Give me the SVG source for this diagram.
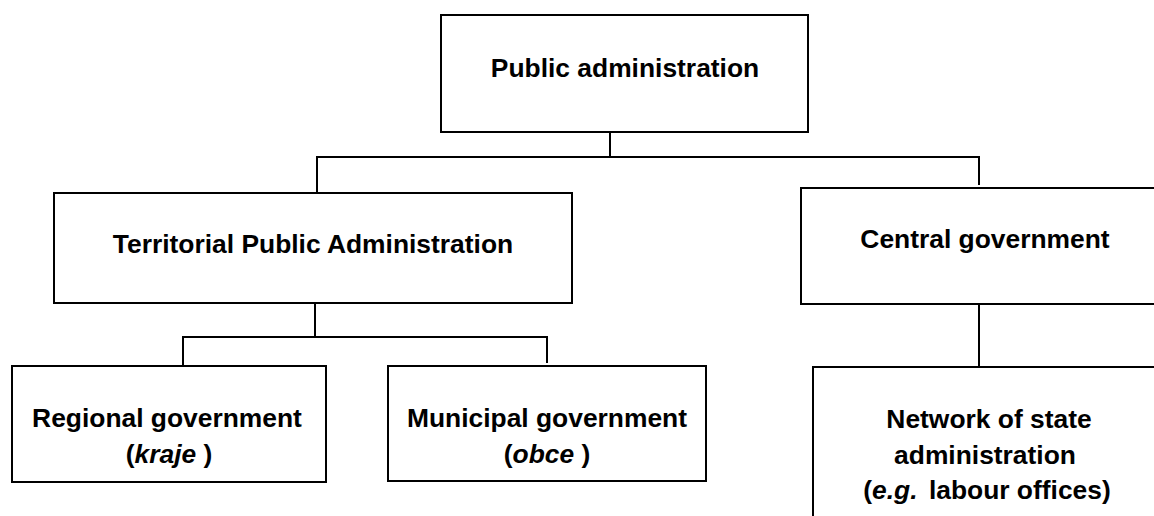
<svg xmlns="http://www.w3.org/2000/svg" width="1154" height="516" viewBox="0 0 1154 516">
<style>
.box{fill:#fff;stroke:#000;stroke-width:2}
.conn{fill:none;stroke:#000;stroke-width:2}
.t{font-family:"Liberation Sans",Arial,sans-serif;font-weight:bold;font-size:26.4px;fill:#000;text-anchor:middle}
.i{font-style:italic}
</style>
<rect width="1154" height="516" fill="#fff"/>
<g id="connectors">
<path class="conn" d="M610 132V157M317 192V157H979V185"/>
<path class="conn" d="M315 303V337M183 365V337H547V363"/>
<path class="conn" d="M979 304V366"/>
</g>
<g id="n-public">
<rect class="box" x="441" y="15" width="367" height="117"/>
<text class="t" x="625" y="77">Public administration</text>
</g>
<g id="n-territorial">
<rect class="box" x="54" y="193" width="518" height="110"/>
<text class="t" x="313" y="253">Territorial Public Administration</text>
</g>
<g id="n-central">
<rect class="box" x="801" y="188" width="370" height="116"/>
<text class="t" x="985" y="248">Central government</text>
</g>
<g id="n-regional">
<rect class="box" x="12" y="366" width="314" height="116"/>
<text class="t" x="167" y="427">Regional government</text>
<text class="t" x="169" y="463">(<tspan class="i">kraje</tspan> )</text>
</g>
<g id="n-municipal">
<rect class="box" x="388" y="366" width="318" height="115"/>
<text class="t" x="547" y="427">Municipal government</text>
<text class="t" x="547" y="463">(<tspan class="i">obce</tspan> )</text>
</g>
<g id="n-network">
<rect class="box" x="813" y="367" width="360" height="170"/>
<text class="t" x="989" y="428">Network of state</text>
<text class="t" x="985" y="464">administration</text>
<text class="t" x="987" y="499">(<tspan class="i">e.g.</tspan> <tspan dx="4">labour offices)</tspan></text>
</g>
</svg>
